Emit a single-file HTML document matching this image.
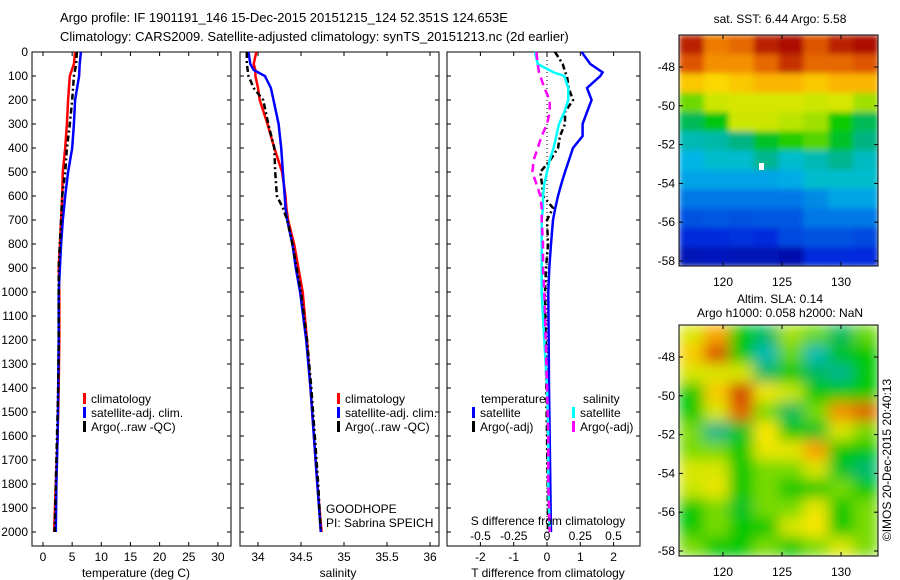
<!DOCTYPE html>
<html><head><meta charset="utf-8"><style>
body{margin:0;background:#fff;}
svg{display:block;font-family:"Liberation Sans",sans-serif;}
</style></head><body>
<svg id="s" width="900" height="580" xmlns="http://www.w3.org/2000/svg">
<defs><filter id="blur" x="0" y="0" width="1" height="1"><feGaussianBlur stdDeviation="7"/></filter>
<filter id="blur2" x="0" y="0" width="1" height="1"><feGaussianBlur stdDeviation="3"/></filter>
<clipPath id="c1"><rect x="679" y="35" width="199" height="231"/></clipPath>
<clipPath id="c2"><rect x="679" y="325" width="199" height="231"/></clipPath></defs>
<text x="60" y="22" font-size="13">Argo profile: IF 1901191_146 15-Dec-2015 20151215_124 52.351S 124.653E</text>
<text x="60" y="41" font-size="13">Climatology: CARS2009. Satellite-adjusted climatology: synTS_20151213.nc (2d earlier)</text>
<text x="780" y="23" font-size="12" text-anchor="middle">sat. SST: 6.44 Argo: 5.58</text>
<text x="780" y="303" font-size="12" text-anchor="middle">Altim. SLA: 0.14</text>
<text x="780" y="317" font-size="12" text-anchor="middle">Argo h1000: 0.058 h2000: NaN</text>
<text transform="translate(891,460) rotate(-90)" font-size="12" text-anchor="middle">©IMOS 20-Dec-2015 20:40:13</text>
<g id="g"></g>
</svg>
<script>
// ---- data ----
const tDepth=[0,50,100,200,300,400,500,600,700,800,900,1000,1200,1400,1600,1800,2000];
const tClim=[5.5,5.3,4.6,4.3,4.1,3.8,3.4,3.3,3.1,2.9,2.7,2.8,2.8,2.7,2.5,2.2,1.9];
const tSat=[6.5,6.3,6.2,5.5,5.3,5.0,4.3,3.8,3.4,3.1,2.9,2.7,2.7,2.6,2.5,2.3,2.2];
const tArgo=[5.8,5.7,5.3,5.0,4.6,4.1,3.8,3.3,3.1,2.9,2.7,2.7,2.7,2.6,2.4,2.2,2.0];
const sDepth=[0,50,75,100,150,200,300,400,500,600,650,700,800,900,1000,1200,1400,1600,1800,2000];
const sClim=[33.98,33.95,33.97,33.97,34.0,34.02,34.11,34.19,34.28,34.32,34.33,34.35,34.42,34.47,34.52,34.57,34.61,34.65,34.69,34.74];
const sSat=[33.89,33.91,33.95,34.08,34.15,34.18,34.24,34.27,34.29,34.31,34.32,34.34,34.40,34.44,34.49,34.56,34.61,34.65,34.69,34.73];
const sArgo=[33.87,33.87,33.88,33.89,33.95,34.06,34.12,34.19,34.2,34.22,34.29,34.34,34.40,34.45,34.5,34.57,34.62,34.66,34.7,34.73];
const dDepth=[0,50,85,100,150,200,250,300,350,400,450,500,550,600,650,700,800,900,1000,1200,1400,1600,1800,2000];
const dTSat=[1.04,1.3,1.67,1.6,1.2,1.34,1.2,1.07,1.07,0.78,0.66,0.54,0.43,0.33,0.25,0.18,0.12,0.07,0.04,0.05,0.06,0.08,0.1,0.12];
const dTArgo=[0.24,0.47,0.55,0.6,0.65,0.78,0.54,0.54,0.39,0.33,0.1,-0.2,-0.15,-0.12,0.18,0,0.03,-0.03,-0.06,-0.04,-0.02,0,0.02,0.03];
const dSSat=[-0.09,-0.07,0.05,0.13,0.16,0.16,0.13,0.09,0.07,0.05,0.02,0,-0.02,-0.03,-0.03,-0.04,-0.04,-0.04,-0.04,-0.02,0,0.01,0.01,0.02];
const dSArgo=[-0.08,-0.07,-0.06,-0.05,-0.02,0.02,0.02,0,-0.04,-0.07,-0.1,-0.11,-0.08,-0.05,-0.04,-0.04,-0.03,-0.03,-0.02,-0.01,0,0.01,0.01,0.02];
const depthTicks=[0,100,200,300,400,500,600,700,800,900,1000,1100,1200,1300,1400,1500,1600,1700,1800,1900,2000];
const tTicks=[0,5,10,15,20,25,30];
const sTicks=[34,34.5,35,35.5,36];
const dTTicks=[-2,-1,0,1,2];
const dSTicks=[-0.5,-0.25,0,0.25,0.5];
const latTicks=[-48,-50,-52,-54,-56,-58];
const lonTicks=[120,125,130];
// SST grid rows north->south (-46.8..-57.8), 8 lon columns
const sstGrid=[
[9.6,8.6,8.8,9.6,9.8,9,9.6,9.8],[9,8.4,8.4,8.8,9.4,8.8,8.8,9],[7.8,7.6,7.8,8,8,7.8,8,8],[6.6,7,7.1,7.1,7.1,7,7.1,6.8],
[5.8,6.1,7,7,6.9,6.8,6.2,5.8],[5.2,5.3,5.6,6,6.3,6.5,6,5.6],[4.7,5,5,5.5,5,5.2,5.5,5.1],[4.5,4.5,4.5,4.5,4.6,5,5,5],
[4,4,4,4,4,4.2,4.5,4.5],[3.5,3.6,3.5,3.6,3.6,4,4,4],[3,3,3.1,3,3.4,3.5,3.5,3.4],[2.5,2.6,2.5,2.5,2.4,3,3,3]];
const slaGrid=[
[0.12,0.25,0,-0.05,0.08,0.05,-0.05,0.05],[0.2,0.36,0,-0.12,0.05,-0.12,-0.02,0],[0.12,0.12,0.12,-0.05,0,-0.05,-0.08,0],
[0,0.2,0.38,0.15,0.1,0,0,0],[0,0.12,0.34,0.06,-0.05,0.06,0.28,0.34],[0.06,-0.08,-0.02,0.16,0,-0.02,0.12,0.06],
[0.06,0.06,0,0.14,0.14,0.26,0,0],[0.12,0.12,0,0.06,0.06,0.12,-0.02,-0.06],[0.1,0.14,0,0.06,0,0,0.06,0],
[0,0.06,-0.02,0.06,0.06,0.14,0,0.06],[0,0.06,0,0,0.12,0.16,0,0.06],[0.06,0,0,0.06,0,0.06,0.12,0.06]];

const NS='http://www.w3.org/2000/svg';
const G=document.getElementById('g');
function mk(t,a,p){const e=document.createElementNS(NS,t);for(const k in a)e.setAttribute(k,a[k]);(p||G).appendChild(e);return e;}
const yD=d=>52+d*0.24;
const xT=v=>43+v*5.83, xS=v=>258+(v-34)*86, xDT=v=>547+v*33.3, xDS=v=>547+v*133;
function box(x0,x1,name){const r=mk('rect',{x:x0,y:52,width:x1-x0,height:494,fill:'none',stroke:'#000','stroke-width':1});


depthTicks.forEach(d=>{mk('line',{x1:x0,x2:x0+4,y1:yD(d),y2:yD(d),stroke:'#000'});mk('line',{x1:x1,x2:x1-4,y1:yD(d),y2:yD(d),stroke:'#000'});});}
function line(xs,ds,fx,col,w,dash,name){const p=mk('polyline',{points:xs.map((v,i)=>fx(v).toFixed(1)+','+yD(ds[i]).toFixed(1)).join(' '),fill:'none',stroke:col,'stroke-width':w});
if(dash)p.setAttribute('stroke-dasharray',dash);

}
function xticks(x0,x1,ticks,fx,y,name){ticks.forEach(t=>{const x=fx(t);mk('line',{x1:x,x2:x,y1:52,y2:56,stroke:'#000'});mk('line',{x1:x,x2:x,y1:546,y2:542,stroke:'#000'});
const e=mk('text',{x:x,y:y,'font-size':12,'text-anchor':'middle'});e.textContent=t;

});}
function txt(x,y,s,name,anchor,fs){const e=mk('text',{x:x,y:y,'font-size':fs||12,'text-anchor':anchor||'start'});e.textContent=s;

return e;}
// panel 1
box(32,231,'temperature-panel');
depthTicks.forEach(d=>{const e=txt(28,yD(d)+4,d,'depth-tick-label','end');});
xticks(32,231,tTicks,xT,561,'temperature-tick-label');
line(tClim,tDepth,xT,'#f00',2.5,null,'temperature-climatology-line');
line(tSat,tDepth,xT,'#00f',2.5,null,'temperature-satellite-line');
line(tArgo,tDepth,xT,'#000',2.5,'6,3,2,3','temperature-argo-line');
txt(136,577,'temperature (deg C)','temperature-axis-title','middle');
function legend(x,y,items,pre){items.forEach((it,i)=>{mk('rect',{x:x,y:y+i*14-10,width:3,height:11,fill:it[0]});txt(x+8,y+i*14,it[1],pre+'-legend-entry');});}
const L=[['#f00','climatology'],['#00f','satellite-adj. clim.'],['#000','Argo(..raw -QC)']];
legend(83,403,L,'temperature');
// panel 2
box(240,439,'salinity-panel');
xticks(240,439,sTicks,xS,561,'salinity-tick-label');
line(sClim,sDepth,xS,'#f00',2.5,null,'salinity-climatology-line');
line(sSat,sDepth,xS,'#00f',2.5,null,'salinity-satellite-line');
line(sArgo,sDepth,xS,'#000',2.5,'6,3,2,3','salinity-argo-line');
txt(338,577,'salinity','salinity-axis-title','middle');
legend(337,403,L,'salinity');
txt(326,513,'GOODHOPE','project-label');
txt(326,527,'PI: Sabrina SPEICH','pi-label');
// panel 3
box(447,640,'difference-panel');
mk('line',{x1:547,x2:547,y1:52,y2:546,stroke:'#000','stroke-dasharray':'1,3'});
xticks(447,640,dTTicks,xDT,561,'t-difference-tick-label');
dSTicks.forEach(t=>txt(xDS(t),540,t,'s-difference-tick-label','middle'));
line(dTSat,dDepth,xDT,'#00f',2.5,null,'t-diff-satellite-line');
line(dTArgo,dDepth,xDT,'#000',2.5,'6,3,2,3','t-diff-argo-line');
line(dSSat,dDepth,xDS,'#0ff',2.5,null,'s-diff-satellite-line');
line(dSArgo,dDepth,xDS,'#f0f',2.5,'8,5','s-diff-argo-line');
txt(548,525,'S difference from climatology','s-difference-axis-title','middle');
txt(548,577,'T difference from climatology','t-difference-axis-title','middle');
txt(481,403,'temperature','legend-temperature-header');
txt(583,403,'salinity','legend-salinity-header');
legend(472,417,[['#00f','satellite'],['#000','Argo(-adj)']],'t-diff');
legend(572,417,[['#0ff','satellite'],['#f0f','Argo(-adj)']],'s-diff');
// maps
const stops=[[0,[0,0,140]],[0.12,[0,40,220]],[0.25,[0,120,230]],[0.35,[0,190,230]],[0.45,[0,180,130]],[0.52,[0,200,0]],[0.62,[200,230,0]],[0.68,[250,230,0]],[0.78,[250,160,0]],[0.88,[220,80,0]],[1,[160,0,0]]];
function cmap(t){t=Math.max(0,Math.min(1,t));for(let i=1;i<stops.length;i++){if(t<=stops[i][0]){const a=stops[i-1],b=stops[i],f=(t-a[0])/(b[0]-a[0]);return 'rgb('+a[1].map((v,k)=>Math.round(v+(b[1][k]-v)*f)).join(',')+')';}}return 'rgb(160,0,0)';}
const lat2y=(la,top)=>top+32+(-48-la)*19.4;
const lon2x=lo=>723+(lo-120)*11.8;
function map(grid,top,vmin,vmax,clip,blur,name){const g=mk('g',{'clip-path':'url(#'+clip+')'});


const gi=mk('g',{filter:'url(#'+blur+')'},g);
const cw=199/grid[0].length,rh=231/grid.length;
mk('rect',{x:679,y:top,width:199,height:231,fill:cmap((grid[6][3]-vmin)/(vmax-vmin))},gi);
grid.forEach((row,r)=>row.forEach((v,c)=>{mk('rect',{x:(679+c*cw).toFixed(1),y:(top+r*rh).toFixed(1),width:(cw+0.6).toFixed(1),height:(rh+0.6).toFixed(1),fill:cmap((v-vmin)/(vmax-vmin))},gi);}));
mk('rect',{x:679,y:top,width:199,height:231,fill:'none',stroke:'#000'});
latTicks.forEach(la=>{const y=lat2y(la,top);mk('line',{x1:679,x2:683,y1:y,y2:y,stroke:'#000'});mk('line',{x1:878,x2:874,y1:y,y2:y,stroke:'#000'});txt(675,y+4,la,'latitude-tick-label','end');});
lonTicks.forEach(lo=>{const x=lon2x(lo);mk('line',{x1:x,x2:x,y1:top,y2:top+4,stroke:'#000'});mk('line',{x1:x,x2:x,y1:top+231,y2:top+227,stroke:'#000'});txt(x,top+251,lo,'longitude-tick-label','middle');});}
map(sstGrid,35,2,10,'c1','blur2','sst-map');
map(slaGrid,325,-0.52,0.48,'c2','blur','sla-map');
mk('rect',{x:759,y:163,width:5,height:7,fill:'#fff'});
</script>
</body></html>
